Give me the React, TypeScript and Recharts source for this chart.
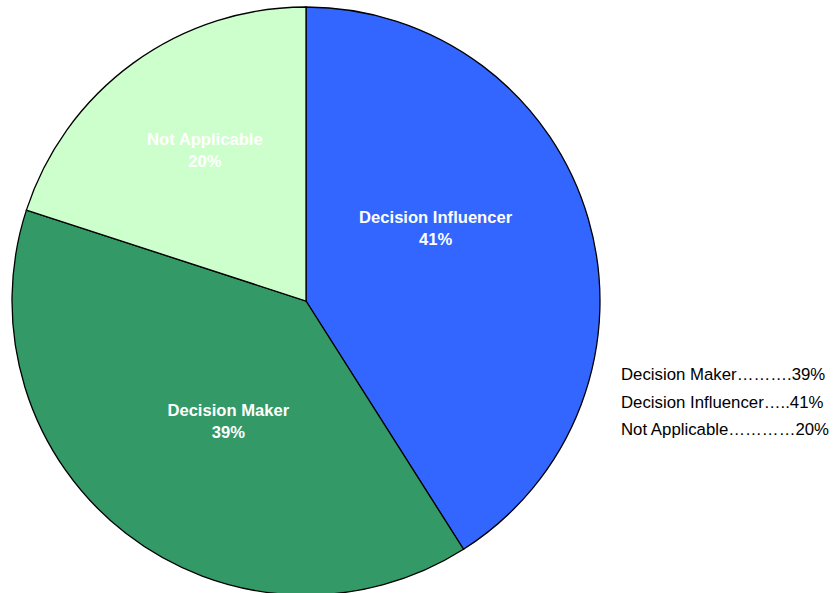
import { PieChart, Pie, Cell, Legend } from 'recharts';

const categories = ['Decision Influencer', 'Decision Maker', 'Not Applicable'];
const shares = [41, 39, 20];
const sliceColors = ['#3366FF', '#339966', '#CCFFCC'];

// legend order and text as printed on the right
const legendLines = [
  'Decision Maker……….39%',
  'Decision Influencer…..41%',
  'Not Applicable…………20%',
];

const data = categories.map((name, i) => ({ name, value: shares[i] }));

const RAD = Math.PI / 180;
const FONT = "'Liberation Sans', Arial, Helvetica, sans-serif";

// nudges so the labels sit where the original placed them
const labelTweak: Record<string, [number, number, number]> = {
  'Decision Influencer': [0.53, -20, -30],
  'Decision Maker': [0.47, 7, 11],
  'Not Applicable': [0.62, 6, -4],
};

const renderLabel = (props: any) => {
  const { cx, cy, midAngle, outerRadius, name, value } = props;
  const [f, dx, dy] = labelTweak[name] || [0.5, 0, 0];
  const r = outerRadius * f;
  const x = cx + r * Math.cos(-midAngle * RAD) + dx;
  const y = cy + r * Math.sin(-midAngle * RAD) + dy;
  return (
    <text
      x={x}
      y={y}
      fill="#FFFFFF"
      textAnchor="middle"
      style={{ fontFamily: FONT, fontSize: 16.6, fontWeight: 'bold' }}
    >
      <tspan x={x} dy={-5}>{name}</tspan>
      <tspan x={x} dy={22}>{value}%</tspan>
    </text>
  );
};

const renderLegend = () => (
  <div style={{ fontFamily: FONT, fontSize: 16.8, color: '#000' }}>
    {legendLines.map((t) => (
      <div key={t} style={{ height: 27.5, lineHeight: '20px', whiteSpace: 'nowrap' }}>{t}</div>
    ))}
  </div>
);

export default function App() {
  return (
    <div style={{ position: 'absolute', left: 0, top: 0, width: 835, height: 593, background: '#fff' }}>
      <PieChart width={835} height={593} margin={{ top: 0, right: 0, bottom: 0, left: 0 }}>
        <Pie
          data={data}
          dataKey="value"
          nameKey="name"
          cx={306}
          cy={301}
          outerRadius={294}
          startAngle={90}
          endAngle={-270}
          stroke="#000000"
          strokeWidth={1.3}
          label={renderLabel}
          labelLine={false}
          isAnimationActive={false}
        >
          {data.map((d, i) => (
            <Cell key={d.name} fill={sliceColors[i]} />
          ))}
        </Pie>
        <Legend
          content={renderLegend}
          layout="vertical"
          wrapperStyle={{ left: 621, top: 365, width: 214 }}
        />
      </PieChart>
    </div>
  );
}
